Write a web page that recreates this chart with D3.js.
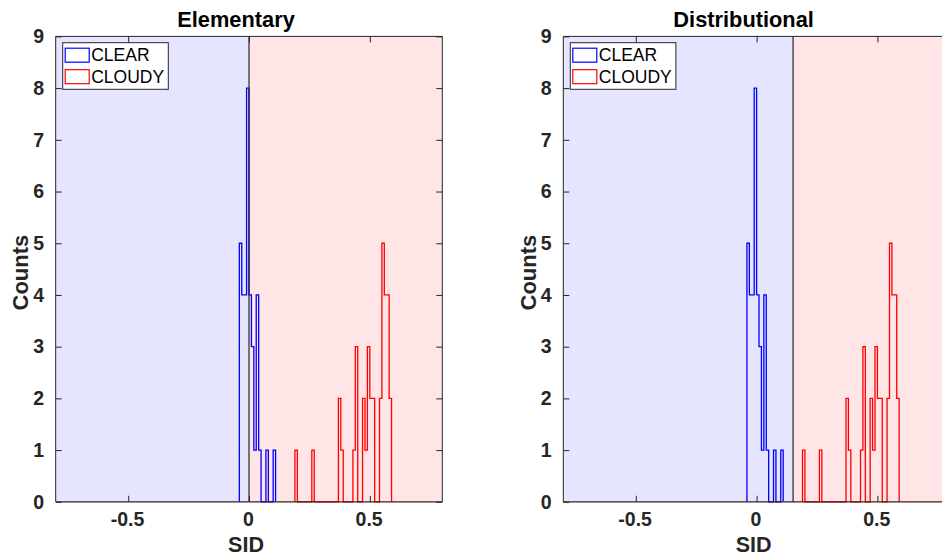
<!DOCTYPE html>
<html>
<head>
<meta charset="utf-8">
<script src="https://cdn.jsdelivr.net/npm/d3@7"></script>
<style>
  body { margin: 0; background: #fff; }
  text { font-family: "Liberation Sans", Arial, sans-serif; }
</style>
</head>
<body>
<div id="chart"></div>
<script>
// histogram counts, bin width 0.01
var binWidth = 0.01;
var clearStart = -0.04;
var clearCounts = [5, 4, 4, 8, 4, 3, 1, 4, 1, 0, 0, 1, 0, 0, 1];
var cloudyStart = 0.19;
var cloudyCounts = [1, 0, 0, 0, 0, 0, 0, 1, 0, 0, 0, 0, 0, 0, 0, 0, 0, 0, 2, 1,
                    0, 0, 0, 0, 1, 3, 0, 0, 2, 1, 3, 2, 2, 0, 0, 2, 5, 4, 4, 2];

var panelTitles = ["Elementary", "Distributional"];
var thresholds = [0, 0.151];
var xTicks = [-0.5, 0, 0.5];
var xTickLabels = ["-0.5", "0", "0.5"];
var yTicks = [0, 1, 2, 3, 4, 5, 6, 7, 8, 9];
var legendLabels = ["CLEAR", "CLOUDY"];
var seriesColors = ["#0000ff", "#ff0000"];

var width = 942, height = 558;
var svg = d3.select("#chart").append("svg")
  .attr("width", width)
  .attr("height", height);

var panelLeft = [55.7, 563.3];
var plotW = 386.6, plotTop = 36.4, plotH = 465.4;

var stairs = (start, counts) => {
  var pts = [[start, 0]];
  counts.forEach((c, i) => {
    pts.push([start + i * binWidth, c]);
    pts.push([start + (i + 1) * binWidth, c]);
  });
  pts.push([start + counts.length * binWidth, 0]);
  return pts;
};

var drawPanel = (idx) => {
  var g = svg.append("g")
    .attr("transform", `translate(${panelLeft[idx]}, ${plotTop})`);

  var x = d3.scaleLinear().domain([-0.8, 0.8]).range([0, plotW]);
  var y = d3.scaleLinear().domain([0, 9]).range([plotH, 0]);
  var thr = thresholds[idx];

  // shaded regions
  g.append("rect")
    .attr("x", 0).attr("y", 0)
    .attr("width", x(thr)).attr("height", plotH)
    .attr("fill", "#e5e5ff");
  g.append("rect")
    .attr("x", x(thr)).attr("y", 0)
    .attr("width", plotW - x(thr)).attr("height", plotH)
    .attr("fill", "#ffe5e5");

  // box
  g.append("path")
    .attr("d", `M0,${plotH}V0H${plotW}V${plotH}`)
    .attr("fill", "none").attr("stroke", "#262626").attr("stroke-width", 1);

  // axes
  var yAxis = d3.axisLeft(y).tickValues(yTicks).tickSize(-6).tickPadding(10.5);
  var yAxisR = d3.axisRight(y).tickValues(yTicks).tickSize(-6).tickFormat("");
  var xAxis = d3.axisBottom(x).tickValues(xTicks).tickSize(-6).tickPadding(10.2)
    .tickFormat((d, i) => xTickLabels[i]);
  var xAxisT = d3.axisTop(x).tickValues(xTicks).tickSize(-6).tickFormat("");

  var styleAxis = sel => {
    sel.select(".domain").remove();
    sel.selectAll("line").attr("stroke", "#262626");
    sel.selectAll("text")
      .attr("fill", "#262626")
      .style("font-size", "19.5px")
      .style("font-weight", "bold");
  };

  g.append("g").call(yAxis).call(styleAxis);
  g.append("g").attr("transform", `translate(${plotW},0)`).call(yAxisR).call(styleAxis);
  g.append("g").attr("transform", `translate(0,${plotH})`).call(xAxis).call(styleAxis);
  g.append("g").call(xAxisT).call(styleAxis);
  g.selectAll(".tick text").attr("dx", -1.2);

  // histograms
  var line = d3.line().x(d => x(d[0])).y(d => y(d[1]));
  [[clearStart, clearCounts], [cloudyStart, cloudyCounts]].forEach((s, i) => {
    g.append("path")
      .attr("d", line(stairs(s[0], s[1])))
      .attr("fill", "none")
      .attr("stroke", seriesColors[i])
      .attr("stroke-width", 1.3);
  });

  // bottom axis line
  g.append("line")
    .attr("x1", 0).attr("x2", plotW)
    .attr("y1", plotH).attr("y2", plotH)
    .attr("stroke", "#3b1c24").attr("stroke-width", 1.3);

  // threshold line
  g.append("line")
    .attr("x1", x(thr)).attr("x2", x(thr))
    .attr("y1", 0).attr("y2", plotH)
    .attr("stroke", "#262626").attr("stroke-width", 1.2);

  // title and labels
  g.append("text")
    .attr("x", plotW / 2 - 13).attr("y", -9.1)
    .attr("text-anchor", "middle")
    .style("font-size", "21.8px").style("font-weight", "bold")
    .attr("fill", "#000")
    .text(panelTitles[idx]);

  g.append("text")
    .attr("x", plotW / 2 - 3).attr("y", plotH + 50)
    .attr("text-anchor", "middle")
    .style("font-size", "21.5px").style("font-weight", "bold")
    .attr("fill", "#262626")
    .text("SID");

  g.append("text")
    .attr("transform", `translate(-27.4, ${plotH / 2 + 3.5}) rotate(-90)`)
    .attr("text-anchor", "middle")
    .style("font-size", "22px").style("font-weight", "bold")
    .attr("fill", "#262626")
    .text("Counts");

  // legend
  var lg = g.append("g").attr("transform", "translate(7, 6.3)");
  lg.append("rect")
    .attr("width", 105.6).attr("height", 46.6)
    .attr("fill", "#fff").attr("stroke", "#262626").attr("stroke-width", 1);
  legendLabels.forEach((lab, i) => {
    lg.append("rect")
      .attr("x", 2.5).attr("y", 5.5 + i * 21.5)
      .attr("width", 24).attr("height", 14)
      .attr("fill", "none").attr("stroke", seriesColors[i]).attr("stroke-width", 1.2);
    lg.append("text")
      .attr("x", 28.5).attr("y", 18.8 + i * 21.5)
      .style("font-size", "17.5px")
      .attr("fill", "#000")
      .text(lab);
  });
};

drawPanel(0);
drawPanel(1);
</script>
</body>
</html>
